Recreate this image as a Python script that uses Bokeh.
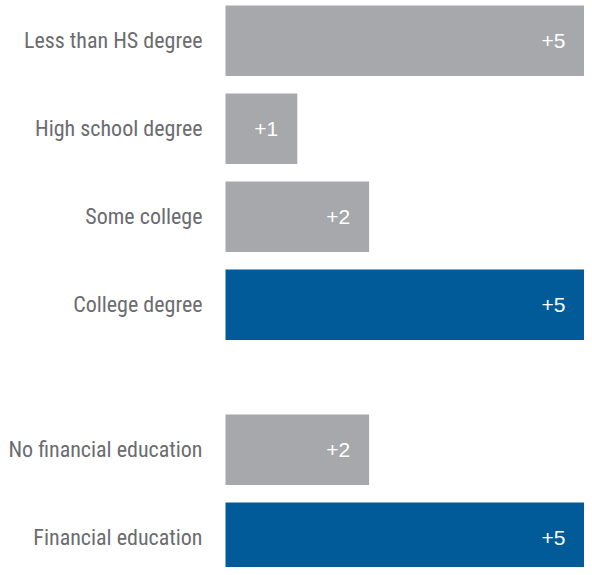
from bokeh.plotting import figure
from bokeh.models import ColumnDataSource, Range1d
from bokeh.core.properties import value
from bokeh.embed import file_html
from bokeh.resources import INLINE

groups = [0, 0, 0, 0, 1, 1]
categories = ["Less than HS degree", "High school degree", "Some college",
              "College degree", "No financial education", "Financial education"]
values = [5, 1, 2, 5, 2, 5]
value_labels = ["+5", "+1", "+2", "+5", "+2", "+5"]
highlight = [False, False, False, True, False, True]

GRAY = "#a7a8ac"
BLUE = "#005b98"
GROUP_GAP = 0.647   # extra space between the two groups, in row units

# row positions derived from order and group (top row = 0, going down)
ypos = [-(i + GROUP_GAP * g) for i, g in enumerate(groups)]
colors = [BLUE if h else GRAY for h in highlight]

src = ColumnDataSource(dict(y=ypos, v=values, lab=value_labels, cat=categories,
                            color=colors, zero=[0] * len(values)))

W, H = 584, 567
PX_PER_ROW = 88.0
PX_PER_UNIT = 71.8
bar_left_px = 225
top_center_px = 40.3

y_top = top_center_px / PX_PER_ROW
y_bottom = y_top - H / PX_PER_ROW
x_start = -bar_left_px / PX_PER_UNIT
x_end = x_start + W / PX_PER_UNIT

p = figure(width=W, height=H, x_range=Range1d(x_start, x_end),
           y_range=Range1d(y_bottom, y_top),
           output_backend="svg", toolbar_location=None,
           x_axis_location=None, y_axis_location=None)
p.min_border_left = 0
p.min_border_right = 0
p.min_border_top = 0
p.min_border_bottom = 0
p.outline_line_color = None
p.grid.visible = False
p.background_fill_color = "white"
p.border_fill_color = "white"

p.hbar(y="y", left=0, right="v", height=0.8, fill_color="color",
       line_color=None, source=src)

p.text(x="zero", y="y", text="cat", source=src, x_offset=-23,
       text_align="right", text_baseline="middle",
       text_font=value("Roboto Condensed"), text_font_size="22px",
       text_color="#6b6c6f")

p.text(x="v", y="y", text="lab", source=src, x_offset=-19,
       text_align="right", text_baseline="middle",
       text_font=value("Liberation Sans"), text_font_size="21px",
       text_color="white")

open("out.html", "w").write(file_html(p, INLINE))
